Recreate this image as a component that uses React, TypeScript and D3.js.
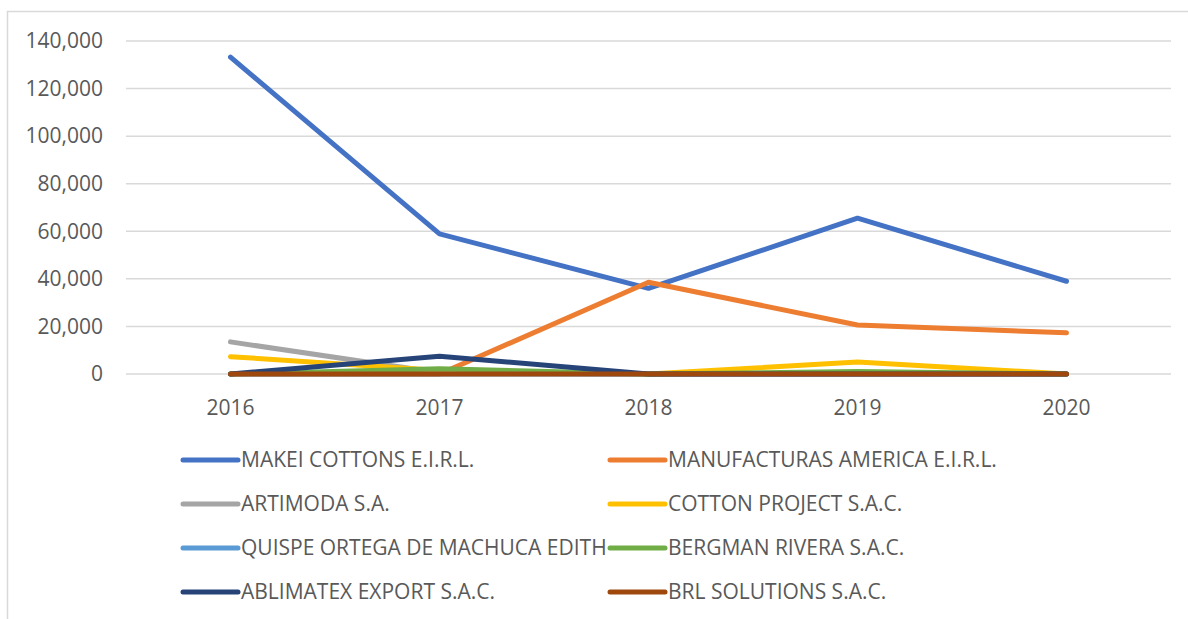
import React, { useEffect, useRef } from "react";
import * as d3 from "d3";

const years = ["2016", "2017", "2018", "2019", "2020"];
const yTicks = [0, 20000, 40000, 60000, 80000, 100000, 120000, 140000];

const seriesNames = [
  "MAKEI COTTONS E.I.R.L.",
  "MANUFACTURAS AMERICA E.I.R.L.",
  "ARTIMODA S.A.",
  "COTTON PROJECT S.A.C.",
  "QUISPE ORTEGA DE MACHUCA EDITH",
  "BERGMAN RIVERA S.A.C.",
  "ABLIMATEX EXPORT S.A.C.",
  "BRL SOLUTIONS S.A.C.",
];

const makei = [133200, 58900, 36000, 65500, 39000];
const manufacturas = [0, 0, 38600, 20600, 17300];
const artimoda = [13500, 500, 0, 0, 0];
const cottonProject = [7300, 1500, 0, 5000, 0];
const quispe = [0, 0, 0, 0, 0];
const bergman = [0, 2200, 0, 1000, 0];
const ablimatex = [0, 7500, 0, 0, 0];
const brl = [0, 0, 0, 0, 0];

const seriesValues = [makei, manufacturas, artimoda, cottonProject, quispe, bergman, ablimatex, brl];
const colors = ["#4472C4", "#ED7D31", "#A5A5A5", "#FFC000", "#5B9BD5", "#70AD47", "#264478", "#9E480E"];

const FONT = "'Open Sans', 'Liberation Sans', sans-serif";

export default function App() {
  const ref = useRef<SVGSVGElement | null>(null);

  useEffect(() => {
    if (!ref.current) return;
    const svg = d3.select(ref.current);
    svg.selectAll("*").remove();

    const left = 126;
    const right = 1171;
    const top = 41;
    const bottom = 374;

    // chart frame (cropped at right/bottom like the screenshot)
    svg
      .append("rect")
      .attr("x", 7.5)
      .attr("y", 11.5)
      .attr("width", 1300)
      .attr("height", 800)
      .attr("fill", "white")
      .attr("stroke", "#d9d9d9")
      .attr("stroke-width", 1.5);

    const x = d3.scalePoint<string>().domain(years).range([left, right]).padding(0.5);
    const y = d3.scaleLinear().domain([0, 140000]).range([bottom, top]);

    svg
      .append("g")
      .selectAll("line")
      .data(yTicks)
      .enter()
      .append("line")
      .attr("x1", left)
      .attr("x2", right)
      .attr("y1", (d) => y(d))
      .attr("y2", (d) => y(d))
      .attr("stroke", "#d9d9d9")
      .attr("stroke-width", 1.5);

    svg
      .append("g")
      .selectAll("text")
      .data(yTicks)
      .enter()
      .append("text")
      .attr("x", 103)
      .attr("y", (d) => y(d))
      .attr("dy", "0.35em")
      .attr("text-anchor", "end")
      .style("font-family", FONT)
      .style("font-size", "21px")
      .style("fill", "#595959")
      .text((d) => d3.format(",")(d));

    svg
      .append("g")
      .selectAll("text")
      .data(years)
      .enter()
      .append("text")
      .attr("x", (d) => x(d) as number)
      .attr("y", 408)
      .attr("dy", "0.35em")
      .attr("text-anchor", "middle")
      .style("font-family", FONT)
      .style("font-size", "21px")
      .style("fill", "#595959")
      .text((d) => d);

    const line = d3
      .line<number>()
      .x((_, i) => x(years[i]) as number)
      .y((d) => y(d));

    seriesValues.forEach((vals, i) => {
      svg
        .append("path")
        .datum(vals)
        .attr("fill", "none")
        .attr("stroke", colors[i])
        .attr("stroke-width", 5)
        .attr("stroke-linecap", "round")
        .attr("stroke-linejoin", "round")
        .attr("d", line);
    });

    // legend, two columns
    const legend = svg.append("g");
    const colX = [183, 610];
    const rowY = [460, 504, 548, 592];
    seriesNames.forEach((name, i) => {
      const cx = colX[i % 2];
      const cy = rowY[Math.floor(i / 2)];
      legend
        .append("line")
        .attr("x1", cx)
        .attr("x2", cx + 55)
        .attr("y1", cy)
        .attr("y2", cy)
        .attr("stroke", colors[i])
        .attr("stroke-width", 5)
        .attr("stroke-linecap", "round");
      legend
        .append("text")
        .attr("x", cx + 58)
        .attr("y", cy)
        .attr("dy", "0.35em")
        .style("font-family", FONT)
        .style("font-size", "21px")
        .style("fill", "#595959")
        .text(name);
    });
  }, []);

  return (
    <svg
      ref={ref}
      width={1188}
      height={619}
      style={{ position: "fixed", left: 0, top: 0, display: "block", background: "white" }}
    />
  );
}
